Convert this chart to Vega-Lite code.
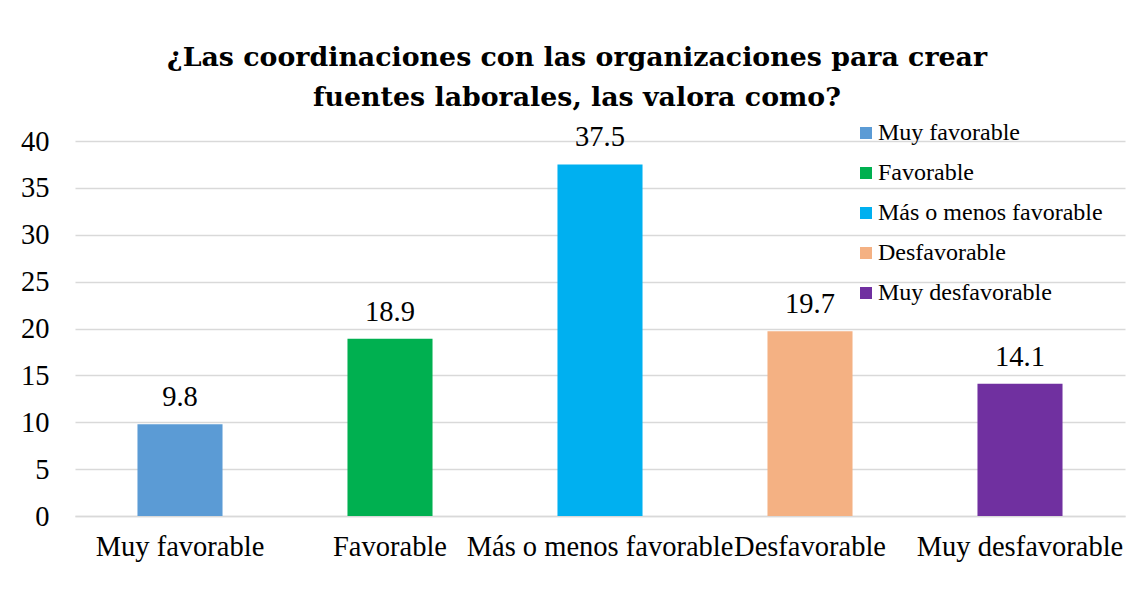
{
  "$schema": "https://vega.github.io/schema/vega-lite/v6.json",
  "width": 1050,
  "height": 375,
  "autosize": "none",
  "padding": {"left": 75, "top": 141, "right": 8, "bottom": 75},
  "background": "white",
  "title": {
    "text": ["¿Las coordinaciones con las organizaciones para crear", "fuentes laborales, las valora como?"],
    "font": "DejaVu Serif",
    "fontSize": 26.8,
    "fontWeight": "bold",
    "color": "black",
    "lineHeight": 40,
    "anchor": "middle",
    "dx": -23,
    "offset": 9
  },
  "config": {
    "view": {"stroke": null},
    "axis": {"labelFont": "Liberation Serif", "labelColor": "black"}
  },
  "data": {
    "values": [
      {"categoria": "Muy favorable", "valor": 9.8},
      {"categoria": "Favorable", "valor": 18.9},
      {"categoria": "Más o menos favorable", "valor": 37.5},
      {"categoria": "Desfavorable", "valor": 19.7},
      {"categoria": "Muy desfavorable", "valor": 14.1}
    ]
  },
  "encoding": {
    "x": {
      "field": "categoria",
      "type": "nominal",
      "sort": null,
      "scale": {"paddingInner": 0.595, "paddingOuter": 0.2975},
      "axis": {
        "title": null,
        "labelAngle": 0,
        "labelFontSize": 28.5,
        "labelOverlap": false,
        "labelLimit": 0,
        "labelPadding": 16,
        "ticks": false,
        "domainColor": "#d9d9d9",
        "domainWidth": 1.3,
        "grid": false
      }
    },
    "y": {
      "field": "valor",
      "type": "quantitative",
      "scale": {"domain": [0, 40], "nice": false},
      "axis": {
        "title": null,
        "values": [0, 5, 10, 15, 20, 25, 30, 35, 40],
        "labelFontSize": 28.5,
        "labelPadding": 26,
        "ticks": false,
        "tickSize": 0,
        "domain": false,
        "grid": true,
        "gridColor": "#d9d9d9",
        "gridWidth": 1.3
      }
    }
  },
  "layer": [
    {
      "mark": {"type": "bar"},
      "encoding": {
        "color": {
          "field": "categoria",
          "type": "nominal",
          "sort": null,
          "scale": {
            "domain": ["Muy favorable", "Favorable", "Más o menos favorable", "Desfavorable", "Muy desfavorable"],
            "range": ["#5B9BD5", "#00B050", "#00B0F0", "#F4B183", "#7030A0"]
          },
          "legend": {
            "title": null,
            "orient": "none",
            "legendX": 779,
            "legendY": -20,
            "padding": 0,
            "symbolType": "square",
            "symbolSize": 144,
            "symbolStrokeWidth": 0,
            "labelFont": "Liberation Serif",
            "labelFontSize": 24,
            "labelColor": "black",
            "labelOffset": 0,
            "labelLimit": 0,
            "rowPadding": 16
          }
        }
      }
    },
    {
      "mark": {"type": "text", "font": "Liberation Serif", "fontSize": 28.5, "color": "black", "baseline": "alphabetic", "dy": -18},
      "encoding": {
        "text": {"field": "valor", "type": "quantitative", "format": ".1f"}
      }
    }
  ]
}
